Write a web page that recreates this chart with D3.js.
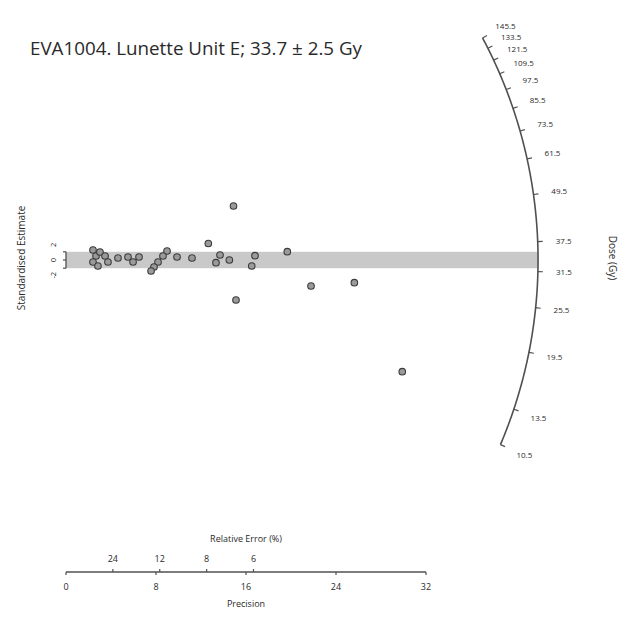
<!DOCTYPE html>
<html>
<head>
<meta charset="utf-8">
<script src="https://cdn.jsdelivr.net/npm/d3@7"></script>
<style>
  html, body { margin: 0; padding: 0; background: #ffffff; }
  svg { display: block; font-family: "Open Sans", "DejaVu Sans", sans-serif; }
</style>
</head>
<body>
<svg id="chart" width="634" height="620"></svg>
<script>
// ---------------- data ----------------
const titleText = "EVA1004. Lunette Unit E; 33.7 \u00b1 2.5 Gy";
const centralDose = 33.7;
// each aliquot: precision (1/relative error) and standardised estimate
const precision = [2.40, 2.67, 2.40, 2.84, 3.02, 3.47, 3.73, 4.62, 5.51, 5.96, 6.49,
                   8.98, 8.62, 8.18, 7.82, 7.56, 9.87, 11.2, 12.65, 13.33, 13.69, 14.52,
                   14.89, 15.11, 16.51, 16.80, 19.67, 21.78, 25.63, 29.89];
const zScore    = [2.44, 0.98, -0.49, -1.46, 1.95, 0.98, -0.49, 0.49, 0.73, -0.49, 0.73,
                   2.20, 0.98, -0.49, -1.71, -2.68, 0.73, 0.49, 4.02, -0.66, 1.22, 0.00,
                   13.17, -9.76, -1.46, 1.05, 2.02, -6.34, -5.54, -27.24];
const precisionTicks = [0, 8, 16, 24, 32];
const relErrorTicks = [24, 12, 8, 6];          // percent
const zTicks = [-2, 0, 2];
const doseTicks = [10.5, 13.5, 19.5, 25.5, 31.5, 37.5, 49.5, 61.5, 73.5, 85.5, 97.5, 109.5, 121.5, 133.5, 145.5];
const doseRange = [10.5, 145.5];
const arcPrecision = 41.96;   // radius of the dose arc, in precision units

// ---------------- scales ----------------
const svg = d3.select("#chart");
const x = d3.scaleLinear().domain([0, 32]).range([66, 426]);
const y = d3.scaleLinear().domain([-50, 50]).range([465, 55]);
const axisY = 572;
const kx = x(1) - x(0);          // px per precision unit
const ky = y(0) - y(1);          // px per z unit
const R = x(arcPrecision) - x(0); // arc radius in px
const ox = x(0), oy = y(0);

function dirFor(d) {
  const s = Math.log(d / centralDose);
  const dx = kx, dy = -ky * s;
  const n = Math.hypot(dx, dy);
  return [dx / n, dy / n];
}

const axisColor = "#505050";
const textColor = "#2a2a2a";

// ---------------- title ----------------
const title = svg.append("text")
  .attr("x", 30).attr("y", 55)
  .attr("font-size", 17.5)
  .attr("fill", textColor)
  .text(titleText);
title.attr("textLength", 332).attr("lengthAdjust", "spacingAndGlyphs");

// ---------------- 2-sigma band ----------------
const bandEnd = ox + R * dirFor(centralDose)[0];
svg.append("rect")
  .attr("x", x(0)).attr("y", y(2))
  .attr("width", bandEnd - x(0))
  .attr("height", y(-2) - y(2))
  .attr("fill", "#c9c9c9");

// ---------------- dose arc ----------------
const arcVals = d3.range(0, 201).map(i => Math.exp(Math.log(doseRange[0]) + (Math.log(doseRange[1]) - Math.log(doseRange[0])) * i / 200));
const arcLine = d3.line().x(d => ox + R * dirFor(d)[0]).y(d => oy + R * dirFor(d)[1]);
svg.append("path").datum(arcVals)
  .attr("d", arcLine)
  .attr("fill", "none").attr("stroke", axisColor).attr("stroke-width", 1.6);

svg.append("g").selectAll("line").data(doseTicks).join("line")
  .attr("x1", d => ox + R * dirFor(d)[0]).attr("y1", d => oy + R * dirFor(d)[1])
  .attr("x2", d => ox + (R + 5) * dirFor(d)[0]).attr("y2", d => oy + (R + 5) * dirFor(d)[1])
  .attr("stroke", axisColor).attr("stroke-width", 1.2);

svg.append("g").selectAll("text").data(doseTicks).join("text")
  .attr("x", d => ox + (R + 26) * dirFor(d)[0])
  .attr("y", d => oy + (R + 26) * dirFor(d)[1] + 3)
  .attr("text-anchor", "middle")
  .attr("font-size", 8)
  .attr("fill", textColor)
  .text(d => d.toFixed(1));

svg.append("text")
  .attr("transform", `translate(609,258) rotate(90)`)
  .attr("text-anchor", "middle")
  .attr("font-size", 10)
  .attr("fill", textColor)
  .text("Dose (Gy)");

// ---------------- y axis (standardised estimate) ----------------
svg.append("line")
  .attr("x1", x(0)).attr("x2", x(0))
  .attr("y1", y(-2)).attr("y2", y(2))
  .attr("stroke", axisColor).attr("stroke-width", 1.3);
svg.append("g").selectAll("line").data(zTicks).join("line")
  .attr("x1", x(0) - 3).attr("x2", x(0))
  .attr("y1", d => y(d)).attr("y2", d => y(d))
  .attr("stroke", axisColor).attr("stroke-width", 1.2);
svg.append("g").selectAll("text").data(zTicks).join("text")
  .attr("transform", d => `translate(56,${y(d) + (d === 0 ? 0 : -d * 3.5)}) rotate(-90)`)
  .attr("text-anchor", "middle")
  .attr("font-size", 7.5)
  .attr("fill", textColor)
  .text(d => d);
svg.append("text")
  .attr("transform", `translate(25,258) rotate(-90)`)
  .attr("text-anchor", "middle")
  .attr("font-size", 10)
  .attr("fill", textColor)
  .text("Standardised Estimate");

// ---------------- x axis ----------------
svg.append("line")
  .attr("x1", x(0)).attr("x2", x(32))
  .attr("y1", axisY).attr("y2", axisY)
  .attr("stroke", axisColor).attr("stroke-width", 1.4);
svg.append("g").selectAll("line").data(precisionTicks).join("line")
  .attr("x1", d => x(d)).attr("x2", d => x(d))
  .attr("y1", axisY).attr("y2", axisY + 3)
  .attr("stroke", axisColor).attr("stroke-width", 1.2);
svg.append("g").selectAll("text").data(precisionTicks).join("text")
  .attr("x", d => x(d)).attr("y", axisY + 18)
  .attr("text-anchor", "middle")
  .attr("font-size", 9)
  .attr("fill", textColor)
  .text(d => d);
svg.append("g").selectAll("line").data(relErrorTicks).join("line")
  .attr("x1", d => x(100 / d)).attr("x2", d => x(100 / d))
  .attr("y1", axisY).attr("y2", axisY - 3)
  .attr("stroke", axisColor).attr("stroke-width", 1.2);
svg.append("g").selectAll("text").data(relErrorTicks).join("text")
  .attr("x", d => x(100 / d)).attr("y", axisY - 10)
  .attr("text-anchor", "middle")
  .attr("font-size", 9)
  .attr("fill", textColor)
  .text(d => d);
svg.append("text")
  .attr("x", x(16)).attr("y", axisY - 30)
  .attr("text-anchor", "middle")
  .attr("font-size", 9)
  .attr("fill", textColor)
  .text("Relative Error (%)");
svg.append("text")
  .attr("x", x(16)).attr("y", axisY + 35)
  .attr("text-anchor", "middle")
  .attr("font-size", 9)
  .attr("fill", textColor)
  .text("Precision");

// ---------------- points ----------------
const pts = precision.map((p, i) => ({ p, z: zScore[i] }));
svg.append("g").selectAll("circle").data(pts).join("circle")
  .attr("cx", d => x(d.p)).attr("cy", d => y(d.z))
  .attr("r", 3.3)
  .attr("fill", "#9a9a9a")
  .attr("stroke", "#3c3c3c")
  .attr("stroke-width", 1.1);
</script>
</body>
</html>
